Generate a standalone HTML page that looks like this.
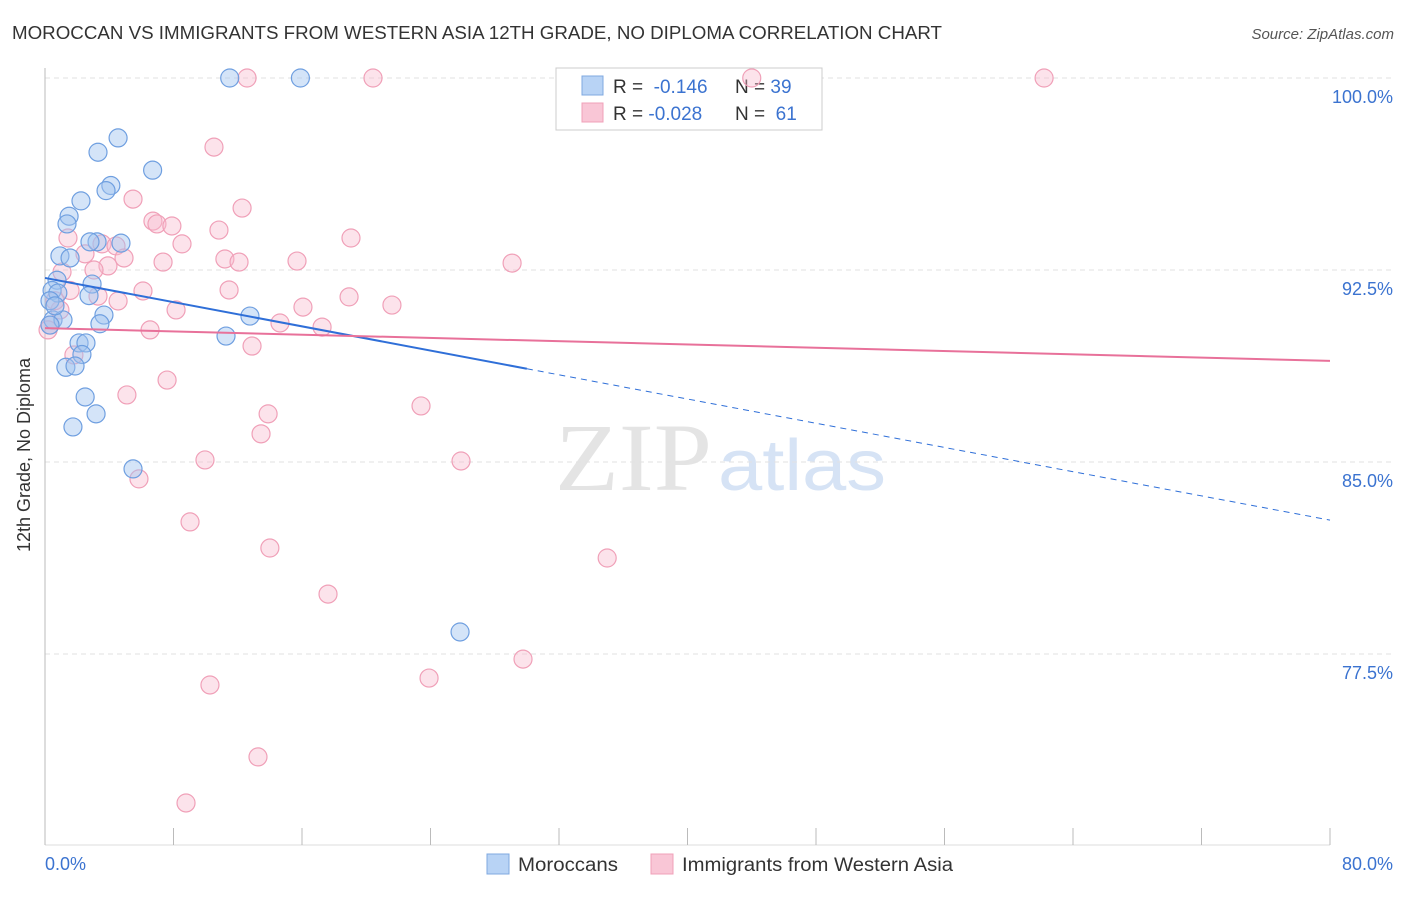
<!DOCTYPE html>
<html><head><meta charset="utf-8"><style>
body{margin:0;background:#fff;font-family:"Liberation Sans",sans-serif}
</style></head><body>
<svg width="1406" height="892" xmlns="http://www.w3.org/2000/svg" font-family="Liberation Sans, sans-serif">
<text x="12" y="39" font-size="18" fill="#333" textLength="930" lengthAdjust="spacingAndGlyphs">MOROCCAN VS IMMIGRANTS FROM WESTERN ASIA 12TH GRADE, NO DIPLOMA CORRELATION CHART</text>
<text x="1394" y="39" font-size="15" fill="#555" font-style="italic" text-anchor="end">Source: ZipAtlas.com</text>
<text x="555" y="490" font-size="96" fill="#e4e4e4" textLength="157" lengthAdjust="spacingAndGlyphs" font-family="Liberation Serif, serif">ZIP</text>
<text x="718" y="490" font-size="72" fill="#d6e3f5" textLength="168" lengthAdjust="spacingAndGlyphs">atlas</text>
<g id="grid"></g>
<line x1="45" y1="68" x2="45" y2="845" stroke="#bbb"/>
<line x1="45" y1="845" x2="1330" y2="845" stroke="#ddd"/>
<g id="ticks"></g>
<text x="30" y="455" font-size="18" fill="#333" text-anchor="middle" transform="rotate(-90 30 455)">12th Grade, No Diploma</text>
<text x="45" y="870" font-size="18" fill="#3b73d0">0.0%</text>
<text x="1393" y="870" font-size="18" fill="#3b73d0" text-anchor="end">80.0%</text>
<g>
<rect x="556" y="68" width="266" height="62" fill="#fff" stroke="#ccc"/>
<rect x="582" y="76" width="21" height="19" fill="#b8d3f5" stroke="#7fa8e0"/>
<rect x="582" y="103" width="21" height="19" fill="#f9c6d6" stroke="#f0a0b8"/>
<text x="613" y="93" font-size="19" fill="#333">R = <tspan fill="#3b73d0">&#160;-0.146</tspan></text>
<text x="735" y="93" font-size="19" fill="#333">N = <tspan fill="#3b73d0">39</tspan></text>
<text x="613" y="120" font-size="19" fill="#333">R = <tspan fill="#3b73d0">-0.028</tspan></text>
<text x="735" y="120" font-size="19" fill="#333">N = <tspan fill="#3b73d0">&#160;61</tspan></text>
</g>
<g id="pts"></g>
<g id="lines"></g>
<g>
<rect x="487" y="854" width="22" height="20" fill="#b8d3f5" stroke="#7fa8e0"/>
<text x="518" y="871" font-size="19" fill="#333" textLength="100" lengthAdjust="spacingAndGlyphs">Moroccans</text>
<rect x="651" y="854" width="22" height="20" fill="#f9c6d6" stroke="#f0a0b8"/>
<text x="682" y="871" font-size="19" fill="#333" textLength="271" lengthAdjust="spacingAndGlyphs">Immigrants from Western Asia</text>
</g>
</svg>
<script>
const yTicks=[100,92.5,85,77.5];
const yTickLabels=["100.0%","92.5%","85.0%","77.5%"];
const xTicks=[0,8,16,24,32,40,48,56,64,72,80];
const blueX=[11.5,15.9,4.55,3.3,6.7,4.1,3.8,2.24,1.5,1.37,3.24,4.73,2.8,0.93,1.56,0.75,2.93,0.44,0.8,2.74,0.31,3.67,12.76,0.5,1.12,0.31,3.42,11.27,2.12,2.55,2.3,1.3,1.87,2.5,3.18,1.74,5.48,25.84,0.62];
const blueY=[100,100,97.66,97.1,96.4,95.8,95.6,95.2,94.6,94.3,93.6,93.55,93.6,93.05,92.97,92.1,91.95,91.7,91.6,91.5,91.3,90.74,90.7,90.55,90.55,90.35,90.4,89.92,89.65,89.65,89.2,88.7,88.75,87.54,86.88,86.37,84.73,78.36,91.1];
const pinkX=[12.58,20.42,44.0,62.2,10.52,5.48,12.27,6.72,6.97,7.9,10.83,1.43,19.05,8.53,3.55,4.42,2.49,4.92,11.2,12.08,15.69,7.35,29.08,3.92,3.05,1.06,6.1,11.46,3.3,18.93,4.55,21.6,16.06,8.16,0.93,14.63,17.25,6.54,12.89,1.8,7.6,5.1,23.41,13.89,13.45,9.96,25.9,5.85,9.03,14.0,35.0,17.62,29.76,23.91,10.27,13.26,8.78,0.31,0.62,1.56,0.19];
const pinkY=[100,100,100,100,97.3,95.27,94.92,94.41,94.3,94.22,94.06,93.75,93.75,93.52,93.52,93.44,93.13,92.97,92.93,92.81,92.85,92.81,92.77,92.66,92.5,92.42,91.68,91.72,91.48,91.45,91.29,91.13,91.05,90.94,90.94,90.43,90.27,90.16,89.53,89.18,88.2,87.62,87.19,86.88,86.1,85.08,85.04,84.34,82.66,81.64,81.25,79.84,77.3,76.56,76.29,73.48,71.68,90.35,91.3,91.7,90.16];
const blueTrend=[92.19,82.73];
const pinkTrend=[90.23,88.95];
const blueSolidEnd=30;
const NS="http://www.w3.org/2000/svg";
const sx=v=>45+v*(1285/80);
const sy=v=>78+(100-v)*(192/7.5);
function mk(t,a,p){const e=document.createElementNS(NS,t);for(const k in a)e.setAttribute(k,a[k]);p.appendChild(e);return e;}
const grid=document.getElementById('grid');
yTicks.forEach((t,i)=>{
 const l=mk('line',{x1:45,x2:1395,y1:sy(t),y2:sy(t),stroke:'#e2e2e2','stroke-dasharray':'5,4'},grid);
 
 
 const tx=mk('text',{x:1393,y:sy(t)+25,'font-size':18,fill:'#3b73d0','text-anchor':'end'},grid);
 tx.textContent=yTickLabels[i];
 
 
});
const ticks=document.getElementById('ticks');
xTicks.forEach(t=>{
 const l=mk('line',{x1:sx(t),x2:sx(t),y1:828,y2:845,stroke:'#bbb'},ticks);
 
 
});
const pts=document.getElementById('pts');
pinkX.forEach((x,i)=>{
 const c=mk('circle',{cx:sx(x),cy:sy(pinkY[i]),r:9,fill:'rgba(248,185,205,0.4)',stroke:'#f0a0b8','stroke-width':1.2},pts);
 
 
});
blueX.forEach((x,i)=>{
 const c=mk('circle',{cx:sx(x),cy:sy(blueY[i]),r:9,fill:'rgba(160,195,240,0.45)',stroke:'#6f9fe0','stroke-width':1.2},pts);
 
 
});
const lines=document.getElementById('lines');
const bAt=x=>blueTrend[0]+(blueTrend[1]-blueTrend[0])*x/80;
let l1=mk('line',{x1:sx(0),y1:sy(bAt(0)),x2:sx(blueSolidEnd),y2:sy(bAt(blueSolidEnd)),stroke:'#2f6fd8','stroke-width':2},lines);


let l2=mk('line',{x1:sx(blueSolidEnd),y1:sy(bAt(blueSolidEnd)),x2:sx(80),y2:sy(bAt(80)),stroke:'#2f6fd8','stroke-width':1,'stroke-dasharray':'6,5'},lines);


let l3=mk('line',{x1:sx(0),y1:sy(pinkTrend[0]),x2:sx(80),y2:sy(pinkTrend[1]),stroke:'#e8719a','stroke-width':2},lines);


</script>
</body></html>
